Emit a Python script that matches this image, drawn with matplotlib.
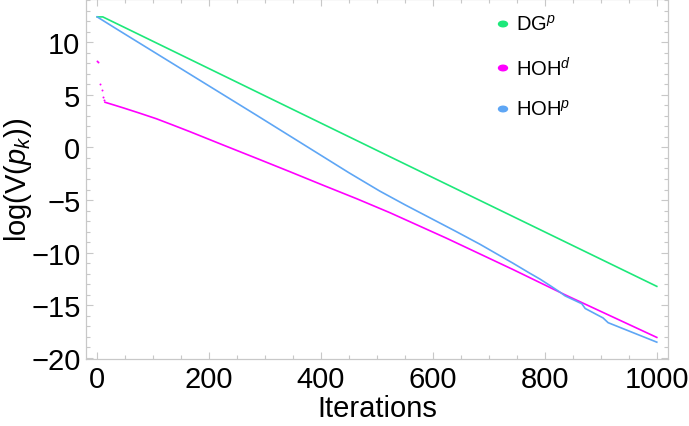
import matplotlib
matplotlib.use("Agg")
import matplotlib.pyplot as plt
from matplotlib.ticker import MultipleLocator

plt.rcParams['font.family'] = ['Liberation Sans', 'DejaVu Sans']
plt.rcParams['mathtext.fontset'] = 'custom'
plt.rcParams['mathtext.rm'] = 'Liberation Sans'
plt.rcParams['mathtext.it'] = 'Liberation Sans:italic'

# data
dg_x = [0, 10, 53, 523, 1000]
dg_y = [12.4, 12.4, 11.29, -0.88, -13.2]

hohd_dots_x = [0, 1, 5, 8, 10, 12]
hohd_dots_y = [8.2, 8.1, 6.05, 5.41, 4.77, 4.5]
hohd_x = [14, 30, 47, 75, 106, 135, 166, 225, 285, 345, 404, 464, 523,
          624, 743, 836, 1000]
hohd_y = [4.29, 4.03, 3.75, 3.27, 2.72, 2.13, 1.49, 0.23, -1.04, -2.32,
          -3.6, -4.88, -6.2, -8.62, -11.6, -14.0, -18.05]

hohp_x = [0, 35, 285, 450, 505, 550, 595, 640, 684, 743, 773, 791, 810,
          827, 836, 866, 872, 904, 913, 1000]
hohp_y = [12.4, 11.24, 3.05, -2.41, -4.15, -5.45, -6.7, -7.95, -9.2, -11.0,
          -11.95, -12.5, -13.15, -13.75, -14.1, -14.85, -15.3, -16.2, -16.65,
          -18.5]

green = '#1de87a'
magenta = '#ff00ff'
blue = '#5ea6f5'
gray = '#c8c8c8'

fig = plt.figure(figsize=(6.89, 4.27), dpi=100)
ax = fig.add_axes([86 / 689, 67 / 427, 582 / 689, 360 / 427])

ax.plot(dg_x, dg_y, color=green, lw=1.2)
ax.plot(hohd_x, hohd_y, color=magenta, lw=1.2)
ax.scatter(hohd_dots_x, hohd_dots_y, color=magenta, s=2, lw=0)
ax.plot(hohp_x, hohp_y, color=blue, lw=1.2)

ax.set_xlim(-20, 1020)
ax.set_ylim(-20.1, 14.1)
ax.xaxis.set_major_locator(MultipleLocator(200))
ax.xaxis.set_minor_locator(MultipleLocator(50))
ax.yaxis.set_major_locator(MultipleLocator(5))
ax.yaxis.set_minor_locator(MultipleLocator(1))

for s in ax.spines.values():
    s.set_color(gray)
    s.set_linewidth(0.9)
ax.tick_params(which='both', direction='in', colors=gray, labelcolor='black',
               top=True, right=True, width=0.8)
ax.tick_params(which='major', length=5, labelsize=21, pad=4)
ax.tick_params(which='minor', length=3)

# Mathematica-style minus sign
ax.set_yticks([-20, -15, -10, -5, 0, 5, 10])
ax.set_yticklabels(['\u221220', '\u221215', '\u221210', '\u22125', '0', '5', '10'])

ax.set_xlabel('Iterations', fontsize=21, labelpad=1)
ax.set_ylabel('log(V($p_k$))', fontsize=21)
ax.yaxis.set_label_coords(-0.09, 0.5)

# legend
leg_items = [('DG$^p$', green, 25), ('HOH$^d$', magenta, 69), ('HOH$^p$', blue, 110)]
for label, col, py in leg_items:
    fy = 1 - py / 427
    fig.patches.append(plt.Circle((503 / 689, fy), 0.0065, color=col,
                                  transform=fig.transFigure, figure=fig))
    fig.text(516 / 689, fy, label, fontsize=14.5, va='center', ha='left')

fig.savefig('out.png', dpi=100)
